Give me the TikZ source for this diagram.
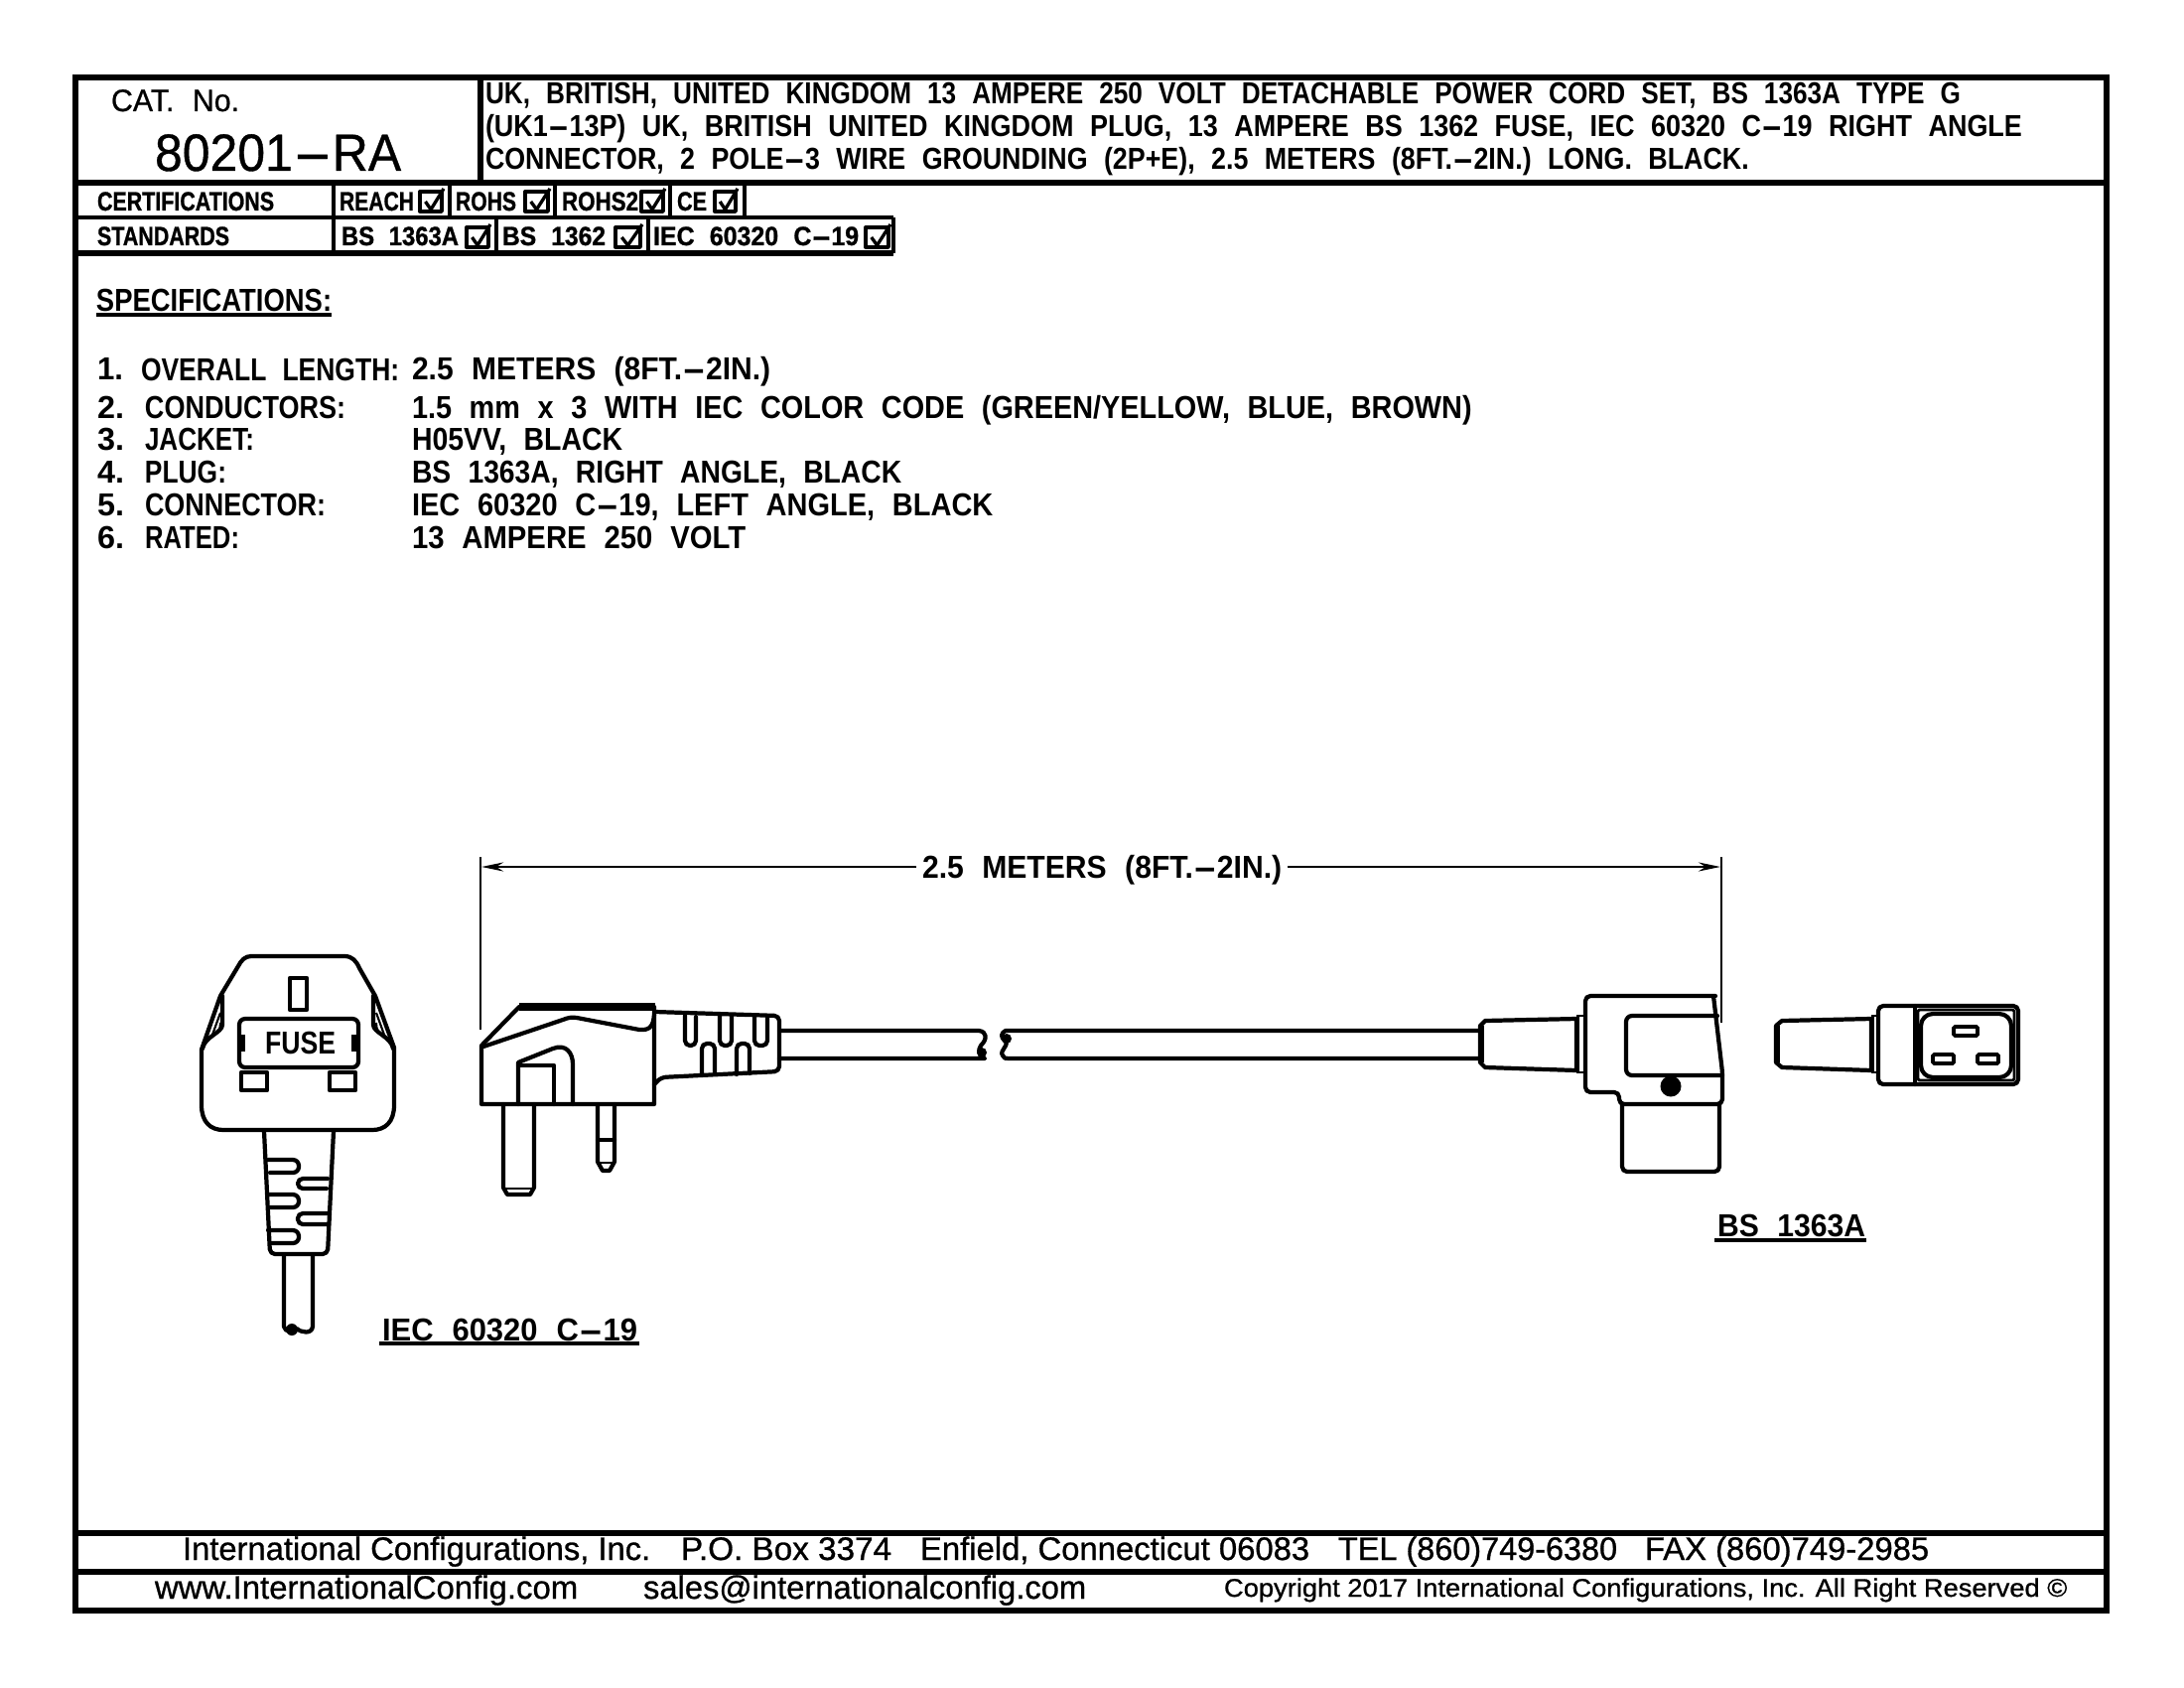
\documentclass[tikz,border=0pt]{standalone}
\usepackage{graphicx}
\usepackage{fontspec}
\usetikzlibrary{arrows.meta}
\setmainfont{Liberation Sans}
\newfontfamily\cad[WordSpace=2.2]{Liberation Sans Bold}
\newfontfamily\cadl[WordSpace=2.2,FakeBold=0.7]{Liberation Sans}
\newfontfamily\cadb[WordSpace=2.2,FakeBold=1]{Liberation Sans Bold}
\newfontfamily\arl[FakeBold=0.8]{Liberation Sans}
\newcommand\fM{\cad\fontsize{9.1pt}{10pt}\selectfont}
\newcommand\fT{\cad\fontsize{8.7pt}{10pt}\selectfont}
\newcommand\fS{\cadb\fontsize{7.6pt}{10pt}\selectfont}
\newcommand\fC{\cadl\fontsize{8.9pt}{10pt}\selectfont}
\newcommand\fB{\cadl\fontsize{15pt}{18pt}\selectfont}
\newcommand\fF{\arl\fontsize{9.3pt}{11pt}\selectfont}
\newcommand\fG{\arl\fontsize{7.3pt}{9pt}\selectfont}
\newcommand\dsh{\scalebox{2.4}[1]{-}}
% name, x1, x2, baseline, font, text
\newcommand\lbl[6]{\node[anchor=base west,inner sep=0pt,outer sep=0pt] (#1) at (#2,#4)
  {\resizebox{\dimexpr 0.284528pt*\numexpr #3-#2\relax\relax}{\height}{#5#6}};}
\newcommand\chk[4]{\draw[box] (#1,#3) rectangle (#2,#4);
  \draw[box] ({#1+0.25*(#2-#1)},{#3+0.5*(#4-#3)}) -- ({#1+0.5*(#2-#1)},{#4-2}) -- ({#2+2},{#3-3});}
\tikzset{
  frame/.style={line width=1.45pt},
  rule/.style={line width=0.95pt},
  box/.style={line width=0.95pt,line join=round},
  ln/.style={line width=1.2pt,line join=round,line cap=round},
  thin2/.style={line width=0.6pt},
  rnd/.style={rounded corners=0.5mm},
}
\begin{document}
\begin{tikzpicture}[x=0.01cm,y=-0.01cm]
\useasboundingbox (0,0) rectangle (2200,1700);
\fill[white] (0,0) rectangle (2200,1700);
% frame
\draw[frame] (76,78) rectangle (2122,1622);
\draw[frame] (76,184) -- (2122,184);
\draw[frame] (484,78) -- (484,184);
\draw[frame] (76,255) -- (900,255);
\draw[rule] (76,219) -- (900,219);
\draw[frame] (76,1544) -- (2122,1544);
\draw[frame] (76,1583) -- (2122,1583);
\foreach \x in {336,453,559,675,750} \draw[rule] (\x,184) -- (\x,219);
\foreach \x in {336,500,653,900} \draw[rule] (\x,219) -- (\x,255);
% title
\lbl{cat}{112}{241}{112}{\fC}{CAT. No.}
\lbl{num}{156}{404}{172}{\fB}{80201\dsh RA}
\lbl{t1}{489}{1974}{105}{\fT}{UK, BRITISH, UNITED KINGDOM 13 AMPERE 250 VOLT DETACHABLE POWER CORD SET, BS 1363A TYPE G}
\lbl{t2}{489}{2036}{137}{\fT}{(UK1\dsh 13P) UK, BRITISH UNITED KINGDOM PLUG, 13 AMPERE BS 1362 FUSE, IEC 60320 C\dsh 19 RIGHT ANGLE}
\lbl{t3}{489}{1761}{170}{\fT}{CONNECTOR, 2 POLE\dsh 3 WIRE GROUNDING (2P+E), 2.5 METERS (8FT.\dsh 2IN.) LONG. BLACK.}
% tables
\lbl{cert}{98}{276}{212}{\fS}{CERTIFICATIONS}
\lbl{std}{98}{231}{247}{\fS}{STANDARDS}
\lbl{reach}{342}{417}{212}{\fS}{REACH}
\lbl{rohs}{459}{520}{212}{\fS}{ROHS}
\lbl{rohsb}{566}{643}{212}{\fS}{ROHS2}
\lbl{ce}{682}{712}{212}{\fS}{CE}
\lbl{bsa}{344}{462}{247}{\fS}{BS 1363A}
\lbl{bsb}{506}{610}{247}{\fS}{BS 1362}
\lbl{iec}{658}{865}{247}{\fS}{IEC 60320 C\dsh 19}
\chk{423}{445}{193}{213}
\chk{529}{552}{193}{213}
\chk{646}{668}{193}{213}
\chk{720}{741}{193}{213}
\chk{470}{492}{229}{249}
\chk{620}{645}{229}{249}
\chk{872}{895}{229}{249}
% specifications
\lbl{spec}{97}{334}{313}{\fM}{SPECIFICATIONS:}
\draw[rule] (97,317) -- (334,317);
\lbl{a1}{98}{124}{383}{\fM}{1.}
\lbl{b1}{142}{402}{383}{\fM}{OVERALL LENGTH:}
\lbl{c1}{415}{776}{383}{\fM}{2.5 METERS (8FT.\dsh 2IN.)}
\lbl{a2}{98}{125}{421}{\fM}{2.}
\lbl{b2}{146}{348}{421}{\fM}{CONDUCTORS:}
\lbl{c2}{415}{1482}{421}{\fM}{1.5 mm x 3 WITH IEC COLOR CODE (GREEN/YELLOW, BLUE, BROWN)}
\lbl{a3}{98}{125}{453}{\fM}{3.}
\lbl{b3}{146}{256}{453}{\fM}{JACKET:}
\lbl{c3}{415}{627}{453}{\fM}{H05VV, BLACK}
\lbl{a4}{98}{125}{486}{\fM}{4.}
\lbl{b4}{146}{228}{486}{\fM}{PLUG:}
\lbl{c4}{415}{908}{486}{\fM}{BS 1363A, RIGHT ANGLE, BLACK}
\lbl{a5}{98}{125}{519}{\fM}{5.}
\lbl{b5}{146}{328}{519}{\fM}{CONNECTOR:}
\lbl{c5}{415}{1000}{519}{\fM}{IEC 60320 C\dsh 19, LEFT ANGLE, BLACK}
\lbl{a6}{98}{125}{552}{\fM}{6.}
\lbl{b6}{146}{241}{552}{\fM}{RATED:}
\lbl{c6}{415}{751}{552}{\fM}{13 AMPERE 250 VOLT}
% footer
\lbl{f1}{184}{655}{1571}{\fF}{International Configurations, Inc.}
\lbl{f2}{686}{898}{1571}{\fF}{P.O. Box 3374}
\lbl{f3}{927}{1319}{1571}{\fF}{Enfield, Connecticut 06083}
\lbl{f4}{1348}{1629}{1571}{\fF}{TEL (860)749-6380}
\lbl{f5}{1657}{1943}{1571}{\fF}{FAX (860)749-2985}
\lbl{g1}{156}{582}{1610}{\fF}{www.InternationalConfig.com}
\lbl{g2}{648}{1094}{1610}{\fF}{sales@internationalconfig.com}
\lbl{g3}{1233}{2082}{1608}{\fG}{Copyright 2017 International Configurations, Inc. All Right Reserved ©}
% dimension
\lbl{dim}{929}{1291}{884}{\fM}{2.5 METERS (8FT.\dsh 2IN.)}
\coordinate (el) at (484,863); \coordinate (elb) at (484,1037);
\coordinate (er) at (1734,863); \coordinate (erb) at (1734,1030);
\coordinate (dl) at (485,873); \coordinate (dli) at (923,873);
\coordinate (dr) at (1733,873); \coordinate (dri) at (1297,873);
\draw[thin2] (el) -- (elb);
\draw[thin2] (er) -- (erb);
\draw[line width=0.8pt,-{Stealth[length=2.2mm,width=0.9mm]}] (dli) -- (dl);
\draw[line width=0.8pt,-{Stealth[length=2.2mm,width=0.9mm]}] (dri) -- (dr);
% front view of plug
\draw[ln] (253,963) -- (347,963) .. controls (355,963) and (359,968) .. (362,975)
  -- (378,1003) -- (397,1055) -- (397,1113) .. controls (397,1130) and (388,1138) .. (375,1138)
  -- (225,1138) .. controls (212,1138) and (203,1130) .. (203,1113) -- (203,1057)
  -- (222,1003) -- (240,973) .. controls (243,967) and (247,963) .. (253,963) -- cycle;
\draw[ln] (224,1003) -- (224,1032) .. controls (224,1040) and (206,1044) .. (204,1056);
\draw[ln] (376,1003) -- (376,1032) .. controls (376,1040) and (394,1044) .. (396,1056);
\draw[thin2] (222,1020) -- (214,1042) .. controls (220,1042) and (222,1036) .. (222,1030);
\draw[thin2] (379,1020) -- (387,1042) .. controls (381,1042) and (379,1036) .. (379,1030);
\draw[ln] (292,985) rectangle (309,1017);
\draw[ln,rounded corners=0.6mm] (241,1026) rectangle (361,1075);
\fill (240,1042) rectangle (247,1059);
\fill (354,1042) rectangle (362,1059);
\lbl{fuse}{267}{338}{1061}{\cad\fontsize{9.1pt}{10pt}\selectfont}{FUSE}
\draw[ln] (243,1080) rectangle (269,1098);
\draw[ln] (332,1080) rectangle (358,1098);
\draw[ln,rnd] (266,1139) -- (272,1263) -- (330,1263) -- (336,1139);
\foreach \ya/\yb in {1168/1181,1203/1216,1239/1252}
  \draw[ln,rounded corners=0.6mm] (270,\ya) -- (301,\ya) -- (301,\yb) -- (272,\yb);
\foreach \ya/\yb in {1187/1197,1222/1233}
  \draw[ln,rounded corners=0.5mm] (330,\ya) -- (300,\ya) -- (300,\yb) -- (329,\yb);
\draw[ln] (286,1264) -- (286,1336) .. controls (287,1342) and (296,1342) .. (299,1338)
  .. controls (303,1342) and (314,1344) .. (315,1336) -- (315,1264);
\fill (294,1339) circle[radius=6];
% labels
\lbl{liec}{385}{642}{1350}{\fM}{IEC 60320 C\dsh 19}
\draw[rule] (382,1353) -- (644,1353);
\lbl{lbs}{1730}{1879}{1245}{\fM}{BS 1363A}
\draw[rule] (1727,1249) -- (1880,1249);
% side plug
\draw[ln] (485,1053) -- (523,1014) -- (659,1014) -- (659,1112) -- (485,1112) -- cycle;
\draw[line width=2.3pt] (523,1014) -- (660,1014);
\draw[ln] (487,1054) -- (567,1027) .. controls (572,1025) and (576,1024) .. (581,1025)
  -- (644,1037) .. controls (655,1038) and (658,1033) .. (659,1022);
\draw[ln] (522,1112) -- (522,1070) -- (557,1056) .. controls (570,1051) and (577,1060) .. (577,1072) -- (577,1112);
\draw[ln] (522,1073) -- (558,1073) -- (558,1112);
\draw[ln] (507,1112) -- (507,1196) -- (511,1203) -- (534,1203) -- (538,1196) -- (538,1112);
\draw[thin2] (507,1197) -- (538,1197);
\draw[ln] (602,1112) -- (602,1170) -- (607,1179) -- (614,1179) -- (619,1170) -- (619,1112);
\draw[ln] (602,1148) -- (619,1148);
\draw[thin2] (602,1171) -- (619,1171);
% strain relief
\draw[ln,rnd] (660,1019) -- (785,1023) -- (785,1079) -- (666,1085) -- (659,1092);
\foreach \xa/\xb in {690/701,725/737,760/773}
  \draw[ln,rounded corners=0.5mm] (\xa,1023) -- (\xa,1053) -- (\xb,1053) -- (\xb,1024);
\foreach \xa/\xb in {707/720,742/755}
  \draw[ln,rounded corners=0.5mm] (\xa,1082) -- (\xa,1051) -- (\xb,1051) -- (\xb,1081);
% cord
\draw[ln] (785,1038) -- (986,1038) .. controls (994,1039) and (995,1046) .. (988,1053)
  .. controls (985,1058) and (985,1062) .. (992,1066)
  -- (785,1066);
\fill (989,1060) circle[radius=5];
\draw[ln] (1491,1038) -- (1013,1038) .. controls (1008,1040) and (1008,1045) .. (1012,1048)
  .. controls (1018,1052) and (1006,1058) .. (1010,1063) .. controls (1011,1066) and (1013,1066) .. (1016,1066) -- (1491,1066);
\fill (1014,1046) circle[radius=5];
% right-angle connector, side
\draw[ln] (1491,1033) -- (1496,1028) -- (1588,1026) -- (1588,1078) -- (1496,1075) -- (1491,1070) -- cycle;
\draw[line width=1.6pt] (1492,1033) -- (1492,1070);
\draw[thin2] (1588,1023) -- (1595,1023);
\draw[thin2] (1588,1080) -- (1595,1080);
\draw[thin2] (1590,1023) -- (1590,1080);
\draw[ln,rnd] (1728,1003) -- (1597,1003) -- (1597,1100) -- (1631,1100) -- (1631,1112) -- (1735,1112) -- (1735,1080) -- (1726,1003);
\draw[ln,rounded corners=0.6mm] (1730,1023) -- (1638,1023) -- (1638,1083) -- (1735,1083);
\fill (1683,1094) circle[radius=10.5];
\draw[ln,rnd] (1634,1112) -- (1634,1180) -- (1732,1180) -- (1732,1112);
% end view of connector
\draw[ln] (1789,1033) -- (1795,1028) -- (1885,1026) -- (1885,1078) -- (1795,1075) -- (1789,1070) -- cycle;
\draw[line width=1.6pt] (1790,1033) -- (1790,1070);
\draw[thin2] (1885,1023) -- (1892,1023);
\draw[thin2] (1885,1080) -- (1892,1080);
\draw[thin2] (1887,1023) -- (1887,1080);
\draw[ln,rounded corners=0.5mm] (1892,1013) rectangle (2033,1092);
\draw[ln] (1929,1013) -- (1929,1092);
\draw[line width=0.8pt,rounded corners=0.2mm] (1932,1017) rectangle (2029,1088);
\draw[ln,fill=white,rounded corners=1.2mm] (1935,1021) rectangle (2026,1085);
\draw[line width=1.1pt,rounded corners=0.15mm] (1968,1034) rectangle (1992,1043);
\draw[line width=1.1pt,rounded corners=0.15mm] (1947,1062) rectangle (1968,1071);
\draw[line width=1.1pt,rounded corners=0.15mm] (1992,1062) rectangle (2013,1071);
\end{tikzpicture}
\end{document}
